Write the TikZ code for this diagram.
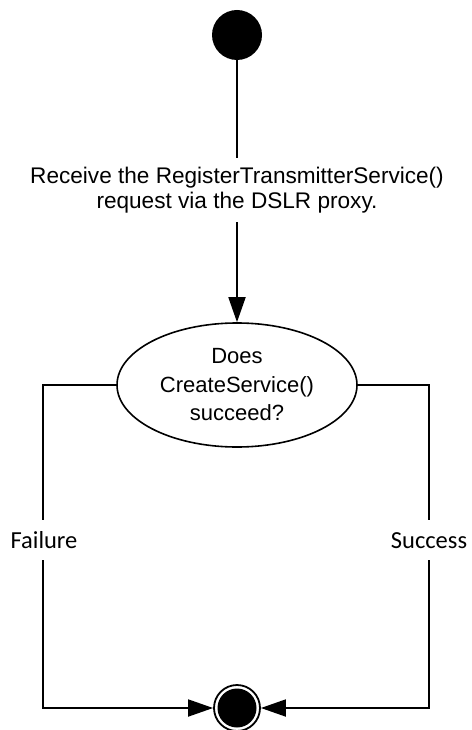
\documentclass[tikz,border=0pt]{standalone}
\usepackage{fontspec}
\setmainfont{Liberation Sans}
\newfontfamily\carlitofont{Carlito}
\usetikzlibrary{arrows.meta,shapes.geometric}
\begin{document}
\begin{tikzpicture}[x=1pt,y=-1pt,
  conn/.style={line width=1.8pt,draw=black},
  arr/.style={-{Triangle[length=25pt,width=17pt]}},
  maintext/.style={font=\fontsize{22.6pt}{25pt}\selectfont,align=center,inner sep=0pt},
  lbl/.style={font=\carlitofont\fontsize{24.5pt}{28pt}\selectfont,fill=white,text height=17pt,text depth=0pt,inner xsep=1pt,inner ysep=11.5pt},
  decision/.style={ellipse,draw=black,line width=1.6pt,minimum width=240pt,minimum height=124pt,inner sep=0pt,font=\fontsize{22pt}{28.5pt}\selectfont,align=center},
  startnode/.style={circle,fill=black,minimum size=50pt,inner sep=0pt},
]
\useasboundingbox (0,0) rectangle (471,730);
\node[startnode] (start) at (237,35) {};
\node[maintext,minimum height=64pt] (recv) at (237,190) {Receive the RegisterTransmitterService()\\request via the DSLR proxy.};
\node[decision] (dec) at (237,385) {Does\\CreateService()\\succeed?};
\node[circle,draw=black,line width=1.8pt,fill=white,minimum size=46pt,inner sep=0pt] (final) at (237,708) {};
\node[circle,fill=black,minimum size=39pt,inner sep=0pt] (finalin) at (237,708) {};
\coordinate (lt) at (43,385);
\coordinate (lb) at (43,708);
\coordinate (rt) at (429,385);
\coordinate (rb) at (429,708);
\draw[conn] (start) -- (recv);
\draw[conn,arr] (recv) -- (dec);
\draw[conn,arr] (dec.west) -- (lt) -- (lb) -- (final.west);
\draw[conn,arr] (dec.east) -- (rt) -- (rb) -- (final.east);
\node[lbl] (fail) at (44,539.5) {Failure};
\node[lbl] (succ) at (429,539.5) {Success};
\end{tikzpicture}
\end{document}
